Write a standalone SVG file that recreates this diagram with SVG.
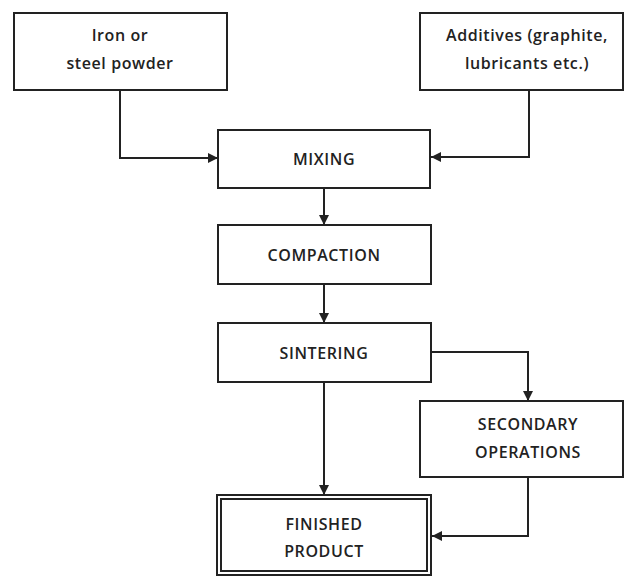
<svg xmlns="http://www.w3.org/2000/svg" width="625" height="576" viewBox="0 0 625 576">
<defs>
<marker id="ah" viewBox="0 0 10 10" refX="10" refY="5" markerWidth="10" markerHeight="10" markerUnits="userSpaceOnUse" orient="auto">
<path d="M0,0 L10,5 L0,10 z" fill="#222"/>
</marker>
<style>
.box{fill:#fff;stroke:#222;stroke-width:2}
.t{font-family:"Open Sans","Liberation Sans",sans-serif;font-weight:600;font-size:16px;fill:#222;text-anchor:middle;dominant-baseline:central;letter-spacing:0.6px}
.c{fill:none;stroke:#222;stroke-width:2;marker-end:url(#ah)}
</style>
</defs>
<rect width="625" height="576" fill="#fff"/>
<g id="connectors">
<path class="c" d="M120,90 V158 H218"/>
<path class="c" d="M529,90 V157 H431"/>
<path class="c" d="M324,188 V225"/>
<path class="c" d="M324,284 V323"/>
<path class="c" d="M431,352 H528 V401"/>
<path class="c" d="M324,382 V495"/>
<path class="c" d="M528,477 V536 H432"/>
</g>
<g id="iron">
<rect class="box" x="14" y="13" width="213" height="77"/>
<text class="t" x="120" y="35">Iron or</text>
<text class="t" x="120" y="63">steel powder</text>
</g>
<g id="additives">
<rect class="box" x="420" y="13" width="203" height="77"/>
<text class="t" x="527" y="35">Additives (graphite,</text>
<text class="t" x="527" y="63">lubricants etc.)</text>
</g>
<g id="mixing">
<rect class="box" x="218" y="130" width="212" height="58"/>
<text class="t" x="324" y="159">MIXING</text>
</g>
<g id="compaction">
<rect class="box" x="218" y="225" width="213" height="59"/>
<text class="t" x="324" y="255">COMPACTION</text>
</g>
<g id="sintering">
<rect class="box" x="218" y="323" width="213" height="59"/>
<text class="t" x="324" y="353">SINTERING</text>
</g>
<g id="secondary">
<rect class="box" x="420" y="401" width="203" height="76"/>
<text class="t" x="528" y="424">SECONDARY</text>
<text class="t" x="528" y="452">OPERATIONS</text>
</g>
<g id="finished">
<rect class="box" x="217" y="495" width="214" height="80"/>
<rect class="box" x="221" y="499" width="206" height="72" stroke-width="1.5"/>
<text class="t" x="324" y="524">FINISHED</text>
<text class="t" x="324" y="551">PRODUCT</text>
</g>
</svg>
